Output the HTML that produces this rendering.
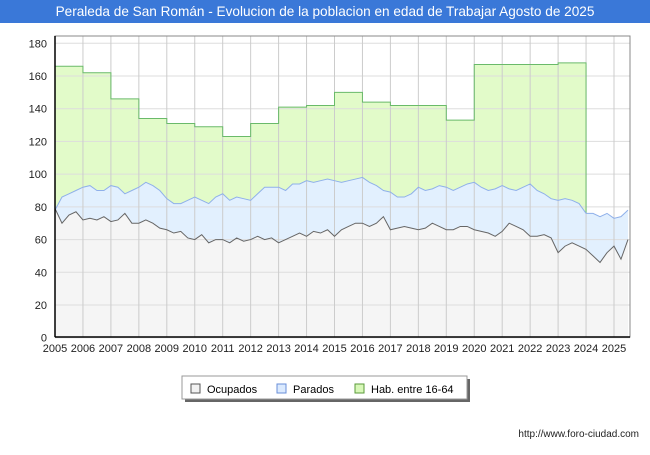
<!DOCTYPE html>
<html><head><meta charset="utf-8"><style>
body{margin:0;width:650px;height:450px;background:#fff;font-family:"Liberation Sans",sans-serif;overflow:hidden}
</style></head><body>
<svg width="650" height="450" id="svg" xmlns="http://www.w3.org/2000/svg">
<rect x="0" y="0" width="650" height="450" fill="#fff"/>
<rect x="0" y="0" width="650" height="23" fill="#3a78d8"/>
<text x="325" y="16" text-anchor="middle" fill="#fff" font-size="13.6">Peraleda de San Román - Evolucion de la poblacion en edad de Trabajar Agosto de 2025</text>
<g id="plot"></g>
<g>
<rect x="185" y="379" width="285" height="23" fill="#000" opacity="0.6"/>
<rect x="182" y="376" width="285" height="23" fill="#fff" stroke="#999"/>
<rect x="191" y="384" width="9" height="9" fill="#f2f2f2" stroke="#555"/>
<text x="207" y="393" font-size="11">Ocupados</text>
<rect x="277" y="384" width="9" height="9" fill="#dbeafe" stroke="#6a8fd8"/>
<text x="293" y="393" font-size="11">Parados</text>
<rect x="355" y="384" width="9" height="9" fill="#d8f8b8" stroke="#5a9a3a"/>
<text x="371" y="393" font-size="11">Hab. entre 16-64</text>
</g>
<text x="639" y="437" text-anchor="end" font-size="10" fill="#222">http://www.foro-ciudad.com</text>
</svg>
<script>
const habYears=[2005,2006,2007,2008,2009,2010,2011,2012,2013,2014,2015,2016,2017,2018,2019,2020,2021,2022,2023];
const habValues=[166,162,146,134,131,129,123,131,141,142,150,144,142,142,133,167,167,167,168];
const startYear=2005, stepYears=0.25;
const paradosTotal=[78,86,88,90,92,93,90,90,93,92,88,90,92,95,93,90,85,82,82,84,86,84,82,86,88,84,86,85,84,88,92,92,92,90,94,94,96,95,96,97,96,95,96,97,98,95,93,90,89,86,86,88,92,90,91,93,92,90,92,94,95,92,90,91,93,91,90,92,94,90,88,85,84,85,84,82,76,76,74,76,73,74,78];
const ocupados=[79,70,75,77,72,73,72,74,71,72,76,70,70,72,70,67,66,64,65,61,60,63,58,60,60,58,61,59,60,62,60,61,58,60,62,64,62,65,64,66,62,66,68,70,70,68,70,74,66,67,68,67,66,67,70,68,66,66,68,68,66,65,64,62,65,70,68,66,62,62,63,61,52,56,58,56,54,50,46,52,56,48,60];
const yTicks=[0,20,40,60,80,100,120,140,160,180];
const xTicks=[2005,2006,2007,2008,2009,2010,2011,2012,2013,2014,2015,2016,2017,2018,2019,2020,2021,2022,2023,2024,2025];
const L=55,R=630,T=36,B=337;
const X=v=>L+(v-2005)*(614-55)/20;
const Y=v=>337.7-v*(337.7-43.3)/180;
const NS='http://www.w3.org/2000/svg';
const g=document.getElementById('plot');
function mk(t,a){const e=document.createElementNS(NS,t);for(const k in a)e.setAttribute(k,a[k]);g.appendChild(e);return e;}
const bg=mk('rect',{x:L,y:T,width:R-L,height:B-T,fill:'#fff'});


let hp=[];habYears.forEach((yr,i)=>{hp.push([X(yr),Y(habValues[i])]);hp.push([X(yr+1),Y(habValues[i])]);});
const habFill=mk('path',{d:'M'+hp.map(p=>p.join(',')).join('L')+`L${hp[hp.length-1][0]},${B}L${hp[0][0]},${B}Z`,fill:'#e2fbc9'});


const pp=paradosTotal.map((v,i)=>[X(startYear+i*stepYears),Y(v)]);
const pFill=mk('path',{d:'M'+pp.map(p=>p.join(',')).join('L')+`L${pp[pp.length-1][0]},${B}L${pp[0][0]},${B}Z`,fill:'#e2f0fe'});


const op=ocupados.map((v,i)=>[X(startYear+i*stepYears),Y(v)]);
const oFill=mk('path',{d:'M'+op.map(p=>p.join(',')).join('L')+`L${op[op.length-1][0]},${B}L${op[0][0]},${B}Z`,fill:'#f5f5f5'});


yTicks.forEach(v=>{const l=mk('line',{x1:L,x2:R,y1:Y(v),y2:Y(v),stroke:'#ddd'});


const t=mk('text',{x:L-8,y:Y(v)+4,'text-anchor':'end','font-size':11,fill:'#222'});t.textContent=v;

});
xTicks.forEach(v=>{const l=mk('line',{x1:X(v),x2:X(v),y1:T,y2:B,stroke:'#ccc'});


const t=mk('text',{x:X(v),y:B+15,'text-anchor':'middle','font-size':11,fill:'#222'});t.textContent=v;

});
const hl=mk('path',{d:'M'+hp.map(p=>p.join(',')).join('L')+`L${hp[hp.length-1][0]},${Y(paradosTotal[76])}`,fill:'none',stroke:'#6aba6a','stroke-width':1});


const pl=mk('path',{d:'M'+pp.map(p=>p.join(',')).join('L'),fill:'none',stroke:'#8fb0ea','stroke-width':1});


const ol=mk('path',{d:'M'+op.map(p=>p.join(',')).join('L'),fill:'none',stroke:'#666','stroke-width':1});


const fr=mk('rect',{x:L,y:T,width:R-L,height:B-T,fill:'none',stroke:'#888'});


const ax=mk('line',{x1:L,x2:L,y1:T,y2:B,stroke:'#000','stroke-width':1.5});


const bx=mk('line',{x1:L,x2:R,y1:B,y2:B,stroke:'#000','stroke-width':1.5});


</script>
</body></html>
